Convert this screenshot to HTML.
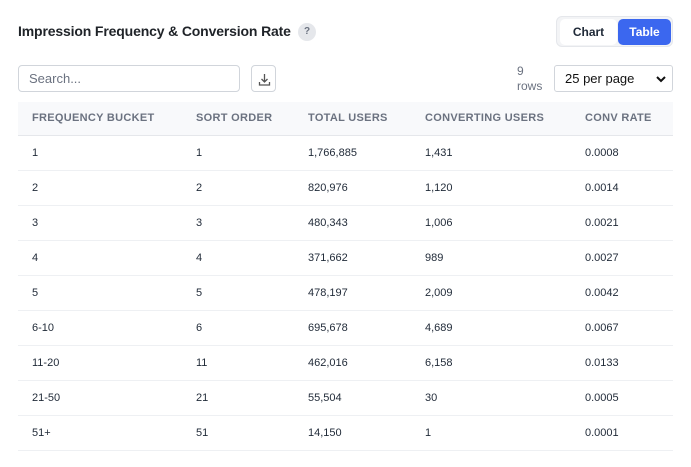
<!DOCTYPE html>
<html><head><style>
*{box-sizing:border-box;margin:0;padding:0}
body{width:691px;height:467px;background:#fff;font-family:"Liberation Sans",sans-serif;color:#1f2937;position:relative;overflow:hidden}
.t{position:absolute;left:18px;top:23px;font-size:14px;font-weight:bold;color:#1f2328;letter-spacing:-0.15px}
.q{position:absolute;left:298px;top:23px;width:18px;height:18px;border-radius:50%;background:#e5e7eb;color:#6b7280;font-size:10px;text-align:center;line-height:18px;font-weight:bold}
.tg{position:absolute;left:556px;top:16px;width:117px;height:31px;border:1px solid #e5e7eb;border-radius:6px;background:#f3f4f6}
.b1{position:absolute;left:3px;top:2px;width:57px;height:26px;background:#fff;border-radius:5px;font-size:12px;font-weight:bold;text-align:center;line-height:26px;color:#1f2937}
.b2{position:absolute;left:61px;top:2px;width:53px;height:26px;background:#3b67ef;border-radius:5px;font-size:12px;font-weight:bold;text-align:center;line-height:26px;color:#fff}
.s{position:absolute;left:18px;top:65px;width:222px;height:27px;border:1px solid #d1d5db;border-radius:4px;font-size:13px;color:#6b7280;padding-left:10px;line-height:25px}
.d{position:absolute;left:251px;top:65px;width:25px;height:27px;border:1px solid #d1d5db;border-radius:4px}
.r{position:absolute;left:517px;top:64px;font-size:12px;color:#6b7280;line-height:15px}
.sel{position:absolute;left:554px;top:65px;width:119px;height:27px;border:1px solid #d1d5db;border-radius:3px;font-size:13px;color:#111;padding-left:10px;line-height:25px}
.sel svg{position:absolute;right:6px;top:10px}
table{position:absolute;left:18px;top:102px;width:655px;border-collapse:collapse;font-size:11px}
th{height:33px;background:#f8f9fb;color:#6b7280;font-size:11px;text-align:left;font-weight:bold;letter-spacing:.3px;border-bottom:1px solid #e5e7eb}
td{height:35px;border-bottom:1px solid #eef0f3;color:#1f2937}
th:first-child,td:first-child{padding-left:14px}
</style></head><body>
<div class="t">Impression Frequency &amp; Conversion Rate</div>
<div class="q">?</div>
<div class="tg"><div class="b1">Chart</div><div class="b2">Table</div></div>
<div class="s">Search...</div>
<div class="d"><svg width="25" height="27" viewBox="0 0 25 27"><path d="M12.5 8v8M9.5 13l3 3 3-3M7.5 16v3h10v-3" fill="none" stroke="#555" stroke-width="1.3"/></svg></div>
<div class="r">9<br>rows</div>
<div class="sel">25 per page<svg width="10" height="7" viewBox="0 0 10 7"><path d="M1 1l4 4 4-4" fill="none" stroke="#111" stroke-width="2"/></svg></div>
<table>
<colgroup><col style="width:178px"><col style="width:112px"><col style="width:117px"><col style="width:160px"><col></colgroup>
<tr><th>FREQUENCY BUCKET</th><th>SORT ORDER</th><th>TOTAL USERS</th><th>CONVERTING USERS</th><th>CONV RATE</th></tr>
<tr><td>1</td><td>1</td><td>1,766,885</td><td>1,431</td><td>0.0008</td></tr>
<tr><td>2</td><td>2</td><td>820,976</td><td>1,120</td><td>0.0014</td></tr>
<tr><td>3</td><td>3</td><td>480,343</td><td>1,006</td><td>0.0021</td></tr>
<tr><td>4</td><td>4</td><td>371,662</td><td>989</td><td>0.0027</td></tr>
<tr><td>5</td><td>5</td><td>478,197</td><td>2,009</td><td>0.0042</td></tr>
<tr><td>6-10</td><td>6</td><td>695,678</td><td>4,689</td><td>0.0067</td></tr>
<tr><td>11-20</td><td>11</td><td>462,016</td><td>6,158</td><td>0.0133</td></tr>
<tr><td>21-50</td><td>21</td><td>55,504</td><td>30</td><td>0.0005</td></tr>
<tr><td>51+</td><td>51</td><td>14,150</td><td>1</td><td>0.0001</td></tr>
</table>
</body></html>
